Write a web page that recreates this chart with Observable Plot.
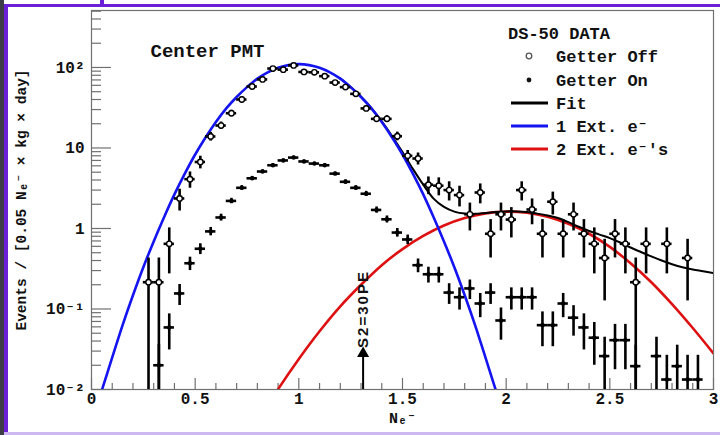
<!DOCTYPE html>
<html><head><meta charset="utf-8">
<script src="https://cdn.jsdelivr.net/npm/d3@7"></script>
<script src="https://cdn.jsdelivr.net/npm/@observablehq/plot@0.6"></script>
<style>
html,body{margin:0;padding:0;background:#fff;}
#wrap{position:relative;width:720px;height:435px;overflow:hidden;background:#fff;}
#wrap svg{position:absolute;left:0;top:0;}
.deco{position:absolute;z-index:5;}
</style></head><body>
<div id="wrap">
 <div class="deco" style="left:0;top:0;width:4px;height:435px;background:#3d3d48"></div>
 <div class="deco" style="left:4px;top:4px;width:4px;height:431px;background:#6b1fd6"></div>
 <div class="deco" style="left:4px;top:4px;width:716px;height:3px;background:#6b1fd6"></div>
 <div class="deco" style="left:100px;top:0;width:4px;height:5px;background:#6b1fd6"></div>
 <div class="deco" style="left:4px;top:432px;width:716px;height:3px;background:#cdb8f2"></div>
</div>
<script>
// ---------- data ----------
const offX = [0.275,0.325,0.375,0.425,0.475,0.525,0.575,0.625,0.675,0.725,0.775,0.825,0.875,0.925,0.975,1.025,1.075,1.125,1.175,1.225,1.275,1.325,1.375,1.425,1.475,1.525,1.575,1.625,1.675,1.725,1.775,1.825,1.875,1.925,1.975,2.025,2.075,2.125,2.175,2.225,2.275,2.325,2.375,2.425,2.475,2.525,2.575,2.625,2.675,2.775,2.875];
const offY = [0.215,0.215,0.645,2.36,4.1,6.7,13.9,19,27,40,58,71,97,94,106,88,87,78,65,57,47,31,23,23,14,8.0,7.4,3.5,3.4,3.0,2.6,1.5,2.8,0.86,1.5,1.29,3.0,1.72,0.86,2.15,0.86,1.5,0.86,0.645,0.43,0.86,0.645,0.215,0.645,0.645,0.43];
const offErr = [0.215,0.215,0.372,0.712,0.939,1.2,1.73,2.02,2.41,2.93,3.53,3.91,4.57,4.5,4.77,4.35,4.32,4.1,3.74,3.5,3.18,2.58,2.22,2.22,1.73,1.31,1.26,0.867,0.855,0.803,0.748,0.568,0.776,0.43,0.568,0.527,0.803,0.608,0.43,0.68,0.43,0.568,0.43,0.372,0.304,0.43,0.372,0.215,0.372,0.372,0.304];

const onX = [0.325,0.375,0.425,0.475,0.525,0.575,0.625,0.675,0.725,0.775,0.825,0.875,0.925,0.975,1.025,1.075,1.125,1.175,1.225,1.275,1.325,1.375,1.425,1.475,1.525,1.575,1.625,1.675,1.725,1.775,1.825,1.875,1.925,1.975,2.025,2.075,2.125,2.175,2.225,2.275,2.325,2.375,2.425,2.475,2.525,2.575,2.625,2.725,2.775,2.825,2.875,2.925];
const onY = [0.02,0.059,0.156,0.37,0.56,0.92,1.37,2.2,3.2,4.2,5.1,6.1,7.0,7.6,6.8,6.4,6.1,4.8,3.8,3.2,2.7,1.7,1.3,0.89,0.73,0.35,0.27,0.27,0.16,0.14,0.18,0.117,0.16,0.072,0.14,0.14,0.14,0.063,0.063,0.117,0.078,0.059,0.044,0.026,0.041,0.041,0.0195,0.026,0.0133,0.0195,0.0133,0.0133];
const onErr = [0.0163,0.028,0.0455,0.07,0.086,0.11,0.135,0.171,0.206,0.236,0.26,0.285,0.305,0.318,0.30,0.292,0.285,0.253,0.225,0.206,0.19,0.15,0.13,0.109,0.0985,0.068,0.06,0.06,0.046,0.043,0.049,0.039,0.046,0.031,0.043,0.043,0.043,0.029,0.029,0.039,0.032,0.028,0.024,0.0186,0.0234,0.0234,0.016,0.0186,0.0133,0.016,0.0133,0.0133];

const blueX = [0.05,0.10,0.15,0.20,0.25,0.30,0.35,0.40,0.45,0.50,0.55,0.60,0.65,0.70,0.75,0.80,0.85,0.90,0.95,1.00,1.05,1.10,1.15,1.20,1.25,1.30,1.35,1.40,1.45,1.50,1.55,1.60,1.65,1.70,1.75,1.80,1.85,1.90,1.95];
const blueY = [0.0098,0.025,0.063,0.148,0.33,0.69,1.38,2.65,4.8,8.3,13.5,21,31,43,57,72.7,87,99,107,110,107,99,87,72.7,57,43,31,21,13.5,8.3,4.8,2.65,1.38,0.69,0.33,0.148,0.063,0.025,0.0098];

const redX = [0.85,0.9,1.0,1.1,1.2,1.3,1.4,1.5,1.6,1.7,1.8,1.9,2.0,2.1,2.2,2.3,2.4,2.5,2.6,2.7,2.8,2.9,3.0];
const redY = [0.0063,0.0101,0.024,0.053,0.108,0.20,0.35,0.555,0.81,1.09,1.35,1.54,1.62,1.57,1.40,1.14,0.86,0.59,0.37,0.215,0.115,0.058,0.028];

const fitX = [1.20,1.25,1.30,1.35,1.40,1.45,1.50,1.55,1.60,1.65,1.70,1.75,1.80,1.85,1.90,1.95,2.00,2.05,2.10,2.15,2.20,2.25,2.30,2.35,2.40,2.45,2.50,2.55,2.60,2.65,2.70,2.75,2.80,2.85,2.90,2.95,3.00];
const fitY = [73,57.2,43.2,31.3,21.4,14.0,8.9,5.5,3.5,2.35,1.85,1.62,1.53,1.52,1.56,1.6,1.63,1.63,1.6,1.53,1.45,1.35,1.2,1.05,0.93,0.84,0.76,0.67,0.58,0.51,0.45,0.40,0.36,0.33,0.31,0.295,0.28];

const xTickMajor = [0,0.5,1,1.5,2,2.5,3];
const xTickLabels = ["0","0.5","1","1.5","2","2.5","3"];
const xTickMinor = [0.1,0.2,0.3,0.4,0.6,0.7,0.8,0.9,1.1,1.2,1.3,1.4,1.6,1.7,1.8,1.9,2.1,2.2,2.3,2.4,2.6,2.7,2.8,2.9];
const yTickMajor = [0.01,0.1,1,10,100];
const yTickLabels = ["10\u207B\u00B2","10\u207B\u00B9","1","10","10\u00B2"];
const yTickMinor = [0.02,0.03,0.04,0.05,0.06,0.07,0.08,0.09,0.2,0.3,0.4,0.5,0.6,0.7,0.8,0.9,2,3,4,5,6,7,8,9,20,30,40,50,60,70,80,90,200,300,400,500];

const title = "Center PMT";
const yLabel = "Events / [0.05 N\u2091\u207B \u00D7 kg \u00D7 day]";
const xLabel = "N\u2091\u207B";
const legendTitle = "DS-50 DATA";
const legendLabels = ["Getter Off","Getter On","Fit","1 Ext. e\u207B","2 Ext. e\u207B's"];
const arrowNote = {x: 1.31, from: 0.01, to: 0.028, textY: 0.1, text: "S2=30PE"};

// ---------- build ----------
const MONO = "'Liberation Mono','DejaVu Sans Mono',monospace";
const SANS = "'Liberation Sans',Arial,sans-serif";
const W = 720, H = 435, mL = 91, mR = 7, mT = 10, mB = 46;
const innerW = W - mL - mR, innerH = H - mT - mB;
const tickC = "#707070";
const BLUE = "#1414f0", RED = "#dd1111";

const off = offX.map((x,i)=>({x, y: offY[i], lo: Math.max(offY[i]-offErr[i], 0.001), hi: offY[i]+offErr[i]}));
const on = onX.map((x,i)=>({x, y: onY[i], lo: Math.max(onY[i]-onErr[i], 0.001), hi: onY[i]+onErr[i]}));
const blue = blueX.map((x,i)=>({x, y: blueY[i]}));
const red = redX.map((x,i)=>({x, y: redY[i]}));
const fit = fitX.map((x,i)=>({x, y: fitY[i]}));

const chart = Plot.plot({
  width: W, height: H,
  marginLeft: mL, marginRight: mR, marginTop: mT, marginBottom: mB,
  style: {background: "transparent", overflow: "visible"},
  x: {domain: [0, 3], axis: null},
  y: {type: "log", domain: [0.01, 510], axis: null},
  marks: [
    Plot.frame({stroke: tickC, strokeWidth: 1.2}),
    // ticks
    Plot.ruleY(yTickMajor, {y: d=>d, insetRight: innerW - 20, stroke: tickC, strokeWidth: 1.2}),
    Plot.ruleY(yTickMinor, {y: d=>d, insetRight: innerW - 10, stroke: tickC, strokeWidth: 1.2}),
    Plot.ruleX(xTickMajor, {x: d=>d, insetTop: innerH - 11, stroke: tickC, strokeWidth: 1.2}),
    Plot.ruleX(xTickMinor, {x: d=>d, insetTop: innerH - 6, stroke: tickC, strokeWidth: 1.2}),
    // tick labels
    Plot.text(yTickMajor, {y: d=>d, text: (d,i)=>yTickLabels[i], frameAnchor: "left", textAnchor: "end", dx: -7, fontFamily: MONO, fontWeight: "bold", fontSize: 16, fill: "#111"}),
    Plot.text(xTickMajor, {x: d=>d, text: (d,i)=>xTickLabels[i], frameAnchor: "bottom", dy: 14, fontFamily: MONO, fontWeight: "bold", fontSize: 16, fill: "#111"}),
    Plot.text([yLabel], {text: d=>d, frameAnchor: "left", textAnchor: "middle", rotate: -90, dx: -70, fontFamily: MONO, fontWeight: "bold", fontSize: 14.5, fill: "#111"}),
    Plot.text([xLabel], {text: d=>d, frameAnchor: "bottom", dy: 33, fontFamily: MONO, fontWeight: "bold", fontSize: 15, fill: "#111"}),
    Plot.text([title], {text: d=>d, frameAnchor: "top-left", textAnchor: "start", dx: 59, dy: 33, fontFamily: MONO, fontWeight: "bold", fontSize: 19, fill: "#111"}),
    // curves
    Plot.line(red, {x: "x", y: "y", stroke: RED, strokeWidth: 2.6, curve: "catmull-rom", clip: true}),
    Plot.line(fit, {x: "x", y: "y", stroke: "#000", strokeWidth: 2, curve: "catmull-rom", clip: true}),
    Plot.line(blue, {x: "x", y: "y", stroke: BLUE, strokeWidth: 2.6, curve: "catmull-rom", clip: true}),
    // annotation arrow
    Plot.ruleX([arrowNote], {x: "x", y1: "from", y2: "to", stroke: "#000", strokeWidth: 2}),
    Plot.dot([arrowNote], {x: "x", y: "to", symbol: "triangle", r: 4.5, fill: "#000", stroke: "none"}),
    Plot.text([arrowNote], {x: "x", y: "textY", text: "text", rotate: -90, fontFamily: SANS, fontWeight: "bold", fontSize: 15, fill: "#111"}),
    // Getter On
    Plot.ruleX(on, {x: "x", y1: "lo", y2: "hi", stroke: "#000", strokeWidth: 2.6, clip: true}),
    Plot.ruleY(on, {y: "y", x1: d=>d.x-0.025, x2: d=>d.x+0.025, stroke: "#000", strokeWidth: 2.6, clip: true}),
    Plot.dot(on, {x: "x", y: "y", r: 2.2, fill: "#000", stroke: "none"}),
    // Getter Off
    Plot.ruleX(off, {x: "x", y1: "lo", y2: "hi", stroke: "#000", strokeWidth: 2.6, clip: true}),
    Plot.ruleY(off, {y: "y", x1: d=>d.x-0.025, x2: d=>d.x+0.025, stroke: "#000", strokeWidth: 2.6, clip: true}),
    Plot.dot(off, {x: "x", y: "y", r: 2.7, fill: "#fff", stroke: "#000", strokeWidth: 1.4})
  ]
});

// legend (inside frame, upper right)
const svg = d3.select(chart);
const lg = svg.append("g").attr("font-family", MONO).attr("font-weight", "bold").attr("fill", "#111").attr("text-anchor", "start");
lg.append("text").attr("x", 508).attr("y", 33).attr("dy", "0.35em").attr("font-size", 17).text(legendTitle);
const rowY = [56, 80, 103, 126, 149];
const rowKind = ["open", "dot", "#000", BLUE, RED];
legendLabels.forEach((lab, i) => {
  const y = rowY[i];
  if (rowKind[i] === "open") {
    lg.append("circle").attr("cx", 529).attr("cy", y).attr("r", 2.8).attr("fill", "#fff").attr("stroke", "#555").attr("stroke-width", 1.3);
  } else if (rowKind[i] === "dot") {
    lg.append("circle").attr("cx", 529).attr("cy", y).attr("r", 2.4).attr("fill", "#111");
  } else {
    lg.append("line").attr("x1", 511).attr("x2", 548).attr("y1", y).attr("y2", y).attr("stroke", rowKind[i]).attr("stroke-width", 3);
  }
  lg.append("text").attr("x", 556).attr("y", y).attr("dy", "0.35em").attr("font-size", 17).text(lab);
});
// spacing of the annotation text like the reference
svg.selectAll("text").filter(function(){ return this.textContent === arrowNote.text; }).attr("letter-spacing", "2px");

document.getElementById("wrap").prepend(chart);
</script>
</body></html>
